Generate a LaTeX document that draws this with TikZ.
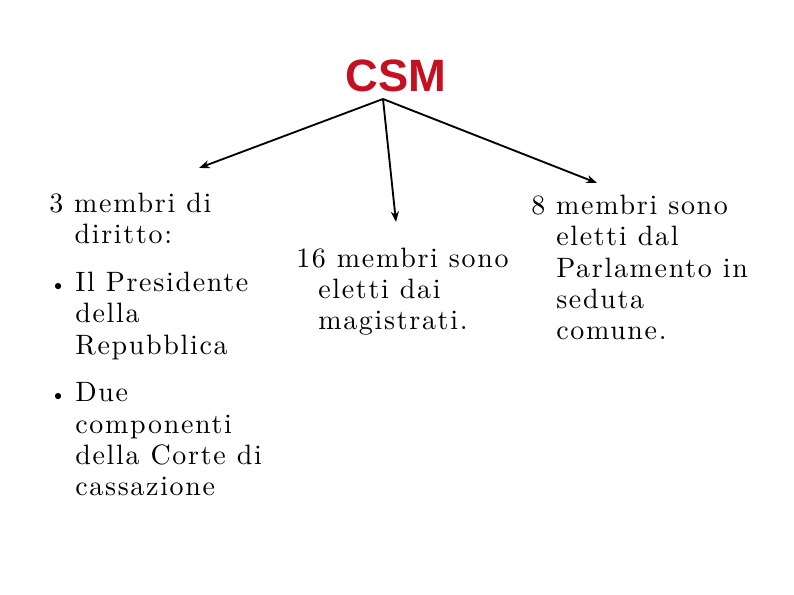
\documentclass[tikz,border=0pt]{standalone}
\usepackage{fontspec}
\newfontfamily\csmfont{Liberation Sans}
\newfontfamily\bodyfont{lmroman10-regular.otf}[LetterSpace=6]
\usetikzlibrary{arrows.meta}
\definecolor{csmred}{RGB}{196,16,32}
\newcommand{\bul}{\makebox[19.5pt][l]{\hspace{0.5pt}\raisebox{0pt}{\fontsize{16}{16}\selectfont\textbullet}}}
\begin{document}
\begin{tikzpicture}[x=0.75pt,y=-0.75pt,
  txt/.style={font=\bodyfont\fontsize{21}{23.6}\selectfont, align=left, inner sep=0pt, anchor=base west},
  arr/.style={-{Stealth[length=8pt,width=6pt]}, line width=1.4pt},
  title/.style={font=\csmfont\bfseries\fontsize{34}{34}\selectfont, text=csmred, anchor=base, inner sep=0pt}]
\path[use as bounding box] (0,0) rectangle (794,595);
\node[title] (csm) at (396,92) {CSM};
\coordinate (apex) at (383,99);
\coordinate (eL) at (199,168);
\coordinate (eM) at (396,222);
\coordinate (eR) at (597,183);
\draw[arr] (apex) -- (eL);
\draw[arr] (apex) -- (eM);
\draw[arr] (apex) -- (eR);
\node[txt] (left) at (49,496) {3 membri di\\
\hspace*{19pt}diritto:\\[12pt]
\bul Il Presidente\\
\hspace*{19.5pt}della\\
\hspace*{19.5pt}Repubblica\\[12pt]
\bul Due\\
\hspace*{19.5pt}componenti\\
\hspace*{19.5pt}della Corte di\\
\hspace*{19.5pt}cassazione};
\node[txt] (mid) at (296,330) {16 membri sono\\
\hspace*{16.5pt}eletti dai\\
\hspace*{16.5pt}magistrati.};
\node[txt] (right) at (531,340) {8 membri sono\\
\hspace*{18.75pt}eletti dal\\
\hspace*{18.75pt}Parlamento in\\
\hspace*{18.75pt}seduta\\
\hspace*{18.75pt}comune.};
\end{tikzpicture}
\end{document}
